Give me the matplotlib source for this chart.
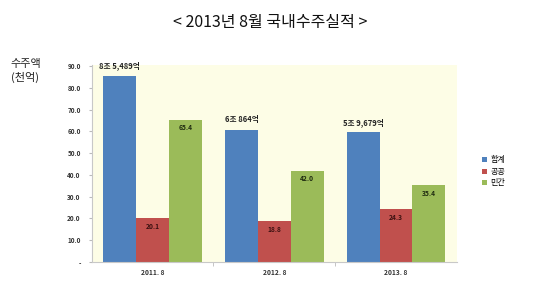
import numpy as np
import matplotlib
matplotlib.use('Agg')
import matplotlib.pyplot as plt
from matplotlib.ticker import FuncFormatter

plt.rcParams['font.family'] = ['Noto Sans CJK KR', 'DejaVu Sans']

categories = ["2011. 8", "2012. 8", "2013. 8"]
series = ["합계", "공공", "민간"]
total = [85.489, 60.864, 59.679]
public = [20.1, 18.8, 24.3]
private = [65.4, 42.0, 35.4]
total_labels = ["8조 5,489억", "6조 864억", "5조 9,679억"]

colors = ['#4f81bd', '#c0504d', '#9bbb59']

fig = plt.figure(figsize=(5.4, 2.96), dpi=100)
ax = fig.add_axes([0.170, 0.115, 0.676, 0.665])
ax.set_facecolor('#fdfde6')

x = np.arange(len(categories))
w = 0.27
ax.bar(x - w, total, w, color=colors[0], label=series[0])
ax.bar(x, public, w, color=colors[1], label=series[1])
ax.bar(x + w, private, w, color=colors[2], label=series[2])

for xi, v, lab in zip(x - w, total, total_labels):
    ax.text(xi, v + 2.5, lab, ha='center', va='bottom', fontsize=5.5,
            fontweight='bold', color='#222222')
for xi, v in zip(x, public):
    ax.text(xi, v - 2.2, f"{v:.1f}", ha='center', va='top', fontsize=4.8,
            fontweight='bold', color='#3a1010')
for xi, v in zip(x + w, private):
    ax.text(xi, v - 2.2, f"{v:.1f}", ha='center', va='top', fontsize=4.8,
            fontweight='bold', color='#1e2a10')

ax.set_xlim(-0.5, 2.5)
ax.set_ylim(0, 90.5)
ax.set_yticks(np.arange(0, 91, 10))
ax.yaxis.set_major_formatter(FuncFormatter(lambda v, p: '-' if v == 0 else f"{v:.1f}"))
ax.set_xticks(x)
ax.set_xticklabels(categories)
ax.set_xticks([0.5, 1.5], minor=True)
ax.tick_params(axis='x', which='major', length=0, labelsize=4.8, pad=5)
ax.tick_params(axis='x', which='minor', length=3, color='#bbbbbb')
ax.tick_params(axis='y', length=2, color='#bbbbbb', labelsize=4.6, pad=6)
for t in ax.get_xticklabels() + ax.get_yticklabels():
    t.set_fontweight('bold')
    t.set_color('#333333')
for s in ['top', 'right']:
    ax.spines[s].set_visible(False)
for s in ['left', 'bottom']:
    ax.spines[s].set_color('#c8c8c8')
    ax.spines[s].set_linewidth(0.8)

fig.text(0.5, 0.925, "< 2013년 8월 국내수주실적 >", ha='center', va='center',
         fontsize=11.5, color='#111111')
fig.text(0.02, 0.76, "수주액\n(천억)", ha='left', va='center', fontsize=8,
         color='#222222', linespacing=1.25)

ax.legend(loc='center left', bbox_to_anchor=(1.05, 0.46), frameon=False,
          fontsize=5.8, handlelength=0.6, handleheight=0.6, handletextpad=0.4,
          labelspacing=0.3)

fig.savefig('out.png', dpi=100)
